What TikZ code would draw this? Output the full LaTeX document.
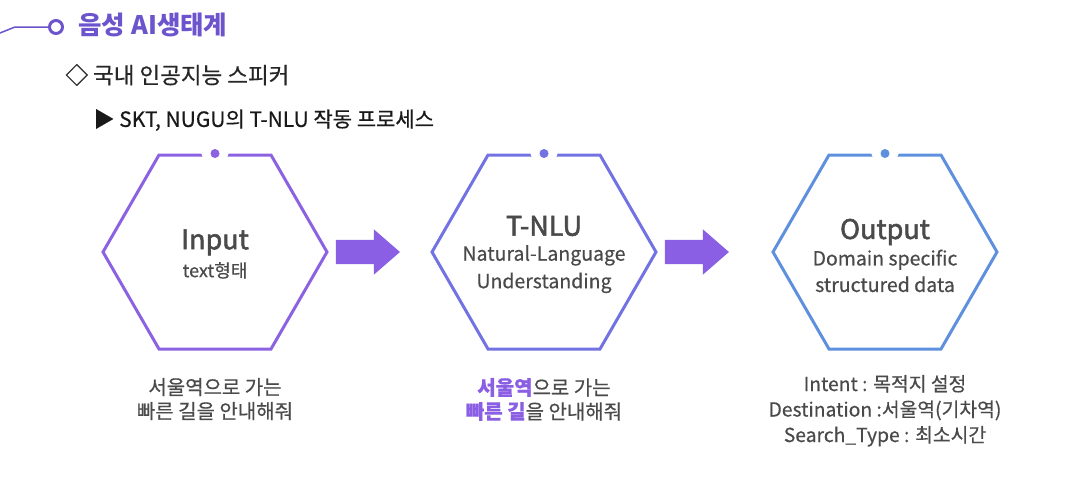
\documentclass[tikz,border=0pt]{standalone}
\usepackage{fontspec}
\setmainfont{Noto Sans CJK KR}
\newfontfamily\hexfont{Noto Sans CJK KR}[FakeBold=2]
\newfontfamily\capfont{Noto Sans CJK KR}[FakeBold=0.5]
\usetikzlibrary{shapes.geometric,shapes.arrows,positioning}

\definecolor{hexA}{HTML}{8C62E2}
\definecolor{hexB}{HTML}{7272E2}
\definecolor{hexC}{HTML}{5E90DE}
\definecolor{arrowfill}{HTML}{8A5FE3}
\definecolor{titlecol}{HTML}{6C54CC}
\definecolor{textgray}{HTML}{4A4A4A}

\begin{document}
\begin{tikzpicture}[x=1pt,y=-1pt]
    \tikzstyle{hexagon}=[regular polygon,regular polygon sides=6,minimum size=224pt,inner sep=0pt,line width=3pt]
    \tikzstyle{hextext}=[align=center,text=textgray,inner sep=0pt,font=\capfont\fontsize{19.5}{27.5}\selectfont]
    \tikzstyle{dot}=[circle,minimum size=9pt,inner sep=0pt,preaction={draw=white,line width=17pt}]
    \tikzstyle{bigarrow}=[single arrow,fill=arrowfill,minimum height=64pt,minimum width=45pt,single arrow head extend=10.5pt,single arrow tip angle=82,inner xsep=0pt,inner ysep=12pt]
    \tikzstyle{caption}=[align=center,text=textgray,font=\capfont\fontsize{20}{24}\selectfont]
    \useasboundingbox (0,0) rectangle (1084,483);

    % heading
    \coordinate (lead) at (0,33);
    \node[circle,draw=titlecol,line width=3pt,minimum size=13pt,inner sep=0pt] (ring) at (56,27) {};
    \draw[titlecol,line width=1.5pt] (lead) -- (15,27) -- (ring.west);
    \node[anchor=west,text=titlecol,font=\bfseries\fontsize{25.5}{25.5}\selectfont] (title) at (75,25) {음성 AI생태계};
    \node[anchor=west,text=black!85,font=\capfont\fontsize{22.5}{22.5}\selectfont] (sub) at (62,75) {◇ 국내 인공지능 스피커};
    \node[anchor=west,text=black!90,font=\capfont\fontsize{21}{21}\selectfont] (proc) at (90,120) {▶ SKT, NUGU의 T-NLU 작동 프로세스};

    % hexagons
    \node[hexagon,draw=hexA] (H-in) at (215,252) {};
    \node[hexagon,draw=hexB] (H-nlu) at (544,252) {};
    \node[hexagon,draw=hexC] (H-out) at (885,252) {};
    \node[dot,fill=hexA] (D-in) at (H-in.north) {};
    \node[dot,fill=hexB] (D-nlu) at (H-nlu.north) {};
    \node[dot,fill=hexC] (D-out) at (H-out.north) {};

    \node[hextext,font=\capfont\fontsize{18}{28}\selectfont] (T-in) at ([yshift=-2pt]H-in.center)
        {{\hexfont\fontsize{27}{30}\selectfont Input}\\text형태};
    \node[hextext] (T-nlu) at ([yshift=-2.5pt]H-nlu.center)
        {{\hexfont\fontsize{27}{30}\selectfont T-NLU}\\[-2.5pt]Natural-Language\\Understanding};
    \node[hextext,font=\capfont\fontsize{19.5}{26.5}\selectfont] (T-out) at ([yshift=-3.5pt]H-out.center)
        {{\hexfont\fontsize{27}{30}\selectfont Output}\\Domain specific\\structured data};

    % arrows
    \foreach \from in {in, nlu}
        \node[bigarrow,right=7pt of H-\from] (A-\from) {};

    % captions
    \node[caption,below=24pt of H-in] (C-in) {서울역으로 가는\\빠른 길을 안내해줘};
    \node[caption,below=24pt of H-nlu] (C-nlu) {{\color{arrowfill}\bfseries 서울역}으로 가는\\{\color{arrowfill}\bfseries 빠른 길}을 안내해줘};
    \node[caption,below=21pt of H-out,font=\capfont\fontsize{19.3}{25.5}\selectfont] (C-out) {Intent : 목적지 설정\\Destination :서울역(기차역)\\Search\_Type : 최소시간};
\end{tikzpicture}
\end{document}
